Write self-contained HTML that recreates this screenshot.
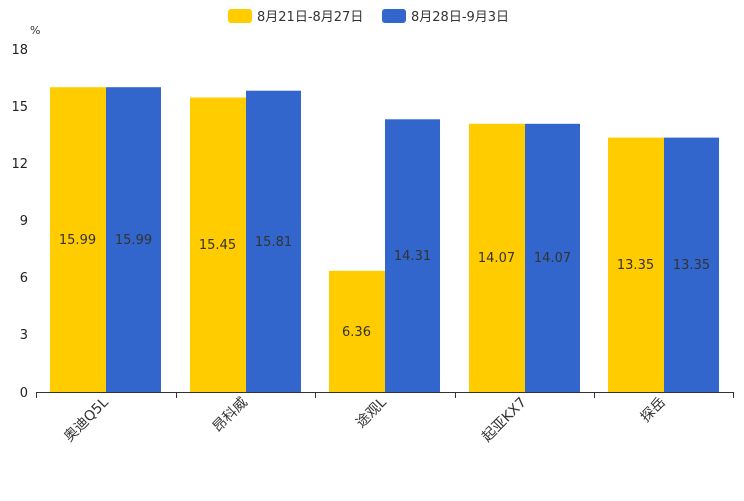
<!DOCTYPE html>
<html><head><meta charset="utf-8"><style>
body{margin:0;background:#fff}
text{font-family:"DejaVu Sans","Noto Sans CJK SC",sans-serif}
</style></head><body>
<svg width="744" height="496" viewBox="0 0 744 496" xmlns="http://www.w3.org/2000/svg">
<rect x="228" y="9" width="24" height="14" rx="3" fill="#ffcc00"/>
<text x="257" y="21" font-size="13" fill="#333">8月21日-8月27日</text>
<rect x="382" y="9" width="24" height="14" rx="3" fill="#3366cc"/>
<text x="411" y="21" font-size="13" fill="#333">8月28日-9月3日</text>
<text x="30" y="34" font-size="11" fill="#333">%</text>
<g font-size="13" fill="#222" text-anchor="end">
<text x="28" y="54">18</text><text x="28" y="111">15</text><text x="28" y="168">12</text>
<text x="28" y="225">9</text><text x="28" y="282">6</text><text x="28" y="339">3</text><text x="28" y="397">0</text>
</g>
<g>
<rect x="50" y="87.2" width="56" height="304.8" fill="#ffcc00"/>
<rect x="106" y="87.2" width="55" height="304.8" fill="#3366cc"/>
<rect x="190" y="97.5" width="56" height="294.5" fill="#ffcc00"/>
<rect x="246" y="90.7" width="55" height="301.3" fill="#3366cc"/>
<rect x="329" y="270.8" width="56" height="121.2" fill="#ffcc00"/>
<rect x="385" y="119.3" width="55" height="272.7" fill="#3366cc"/>
<rect x="469" y="123.8" width="56" height="268.2" fill="#ffcc00"/>
<rect x="525" y="123.8" width="55" height="268.2" fill="#3366cc"/>
<rect x="608" y="137.6" width="56" height="254.4" fill="#ffcc00"/>
<rect x="664" y="137.6" width="55" height="254.4" fill="#3366cc"/>
</g>
<g font-size="13" fill="#333" text-anchor="middle">
<text x="77.5" y="244">15.99</text><text x="133.5" y="244">15.99</text>
<text x="217.5" y="249">15.45</text><text x="273.5" y="246">15.81</text>
<text x="356.5" y="336">6.36</text><text x="412.5" y="260">14.31</text>
<text x="496.5" y="262">14.07</text><text x="552.5" y="262">14.07</text>
<text x="635.5" y="269">13.35</text><text x="691.5" y="269">13.35</text>
</g>
<g stroke="#333" stroke-width="1">
<line x1="36" y1="392.5" x2="734" y2="392.5"/>
<line x1="36.5" y1="392" x2="36.5" y2="398"/><line x1="176.5" y1="392" x2="176.5" y2="398"/>
<line x1="315.5" y1="392" x2="315.5" y2="398"/><line x1="455.5" y1="392" x2="455.5" y2="398"/>
<line x1="594.5" y1="392" x2="594.5" y2="398"/><line x1="733.5" y1="392" x2="733.5" y2="398"/>
</g>
<g font-size="14" fill="#333" text-anchor="end">
<text transform="translate(109,403) rotate(-45)">奥迪Q5L</text>
<text transform="translate(248,403) rotate(-45)">昂科威</text>
<text transform="translate(387,403) rotate(-45)">途观L</text>
<text transform="translate(527,403) rotate(-45)">起亚KX7</text>
<text transform="translate(666,403) rotate(-45)">探岳</text>
</g>
</svg>
</body></html>
